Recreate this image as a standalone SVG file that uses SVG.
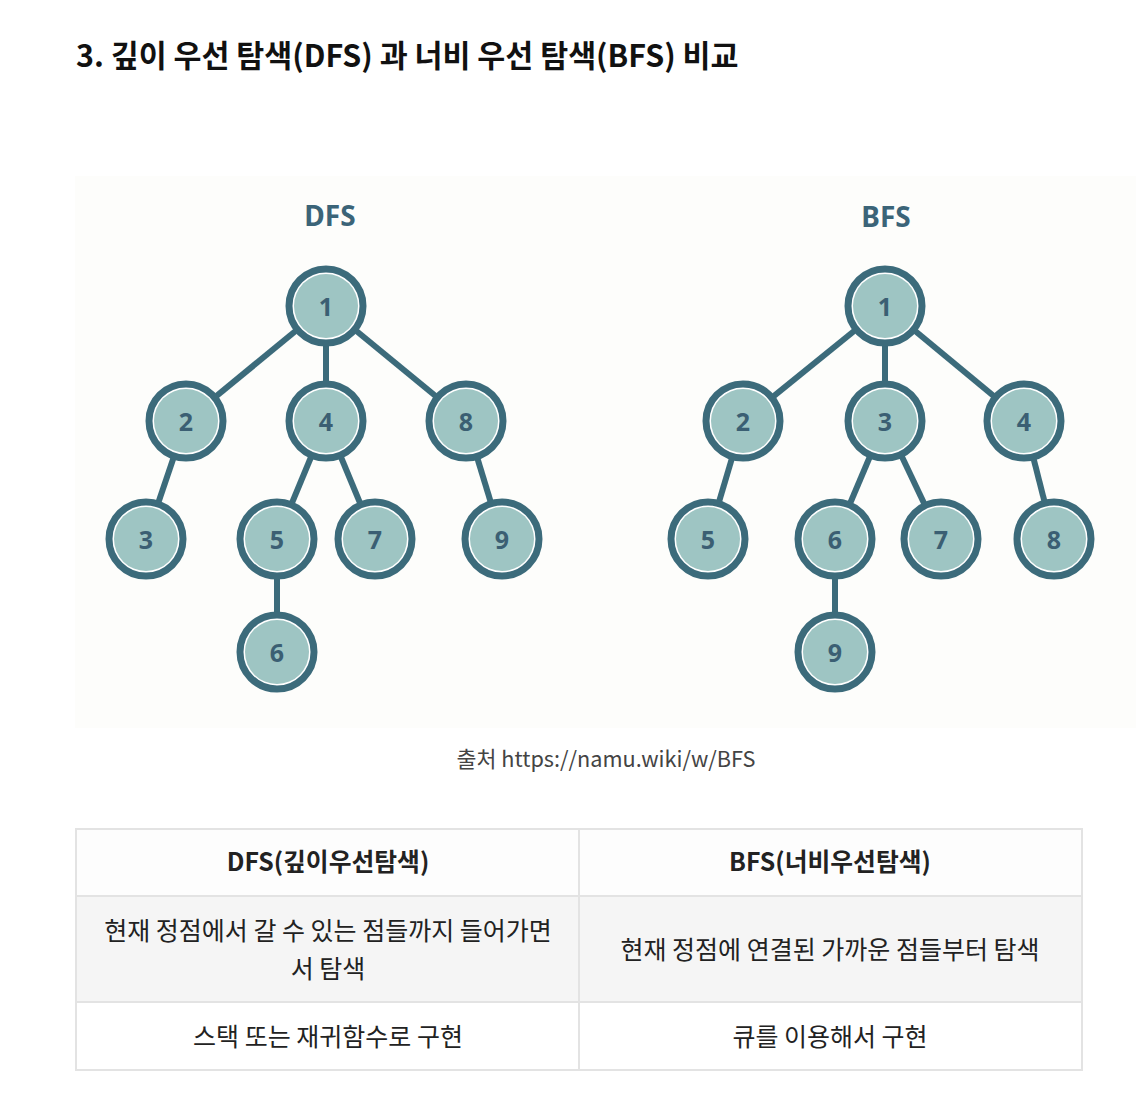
<svg xmlns="http://www.w3.org/2000/svg" width="1136" height="1098" viewBox="0 0 1136 1098">
<style>
.title{font-family:"Noto Sans CJK KR","Noto Sans",sans-serif;font-weight:700;font-size:30.4px;fill:#111}
.tlabel{font-family:"Noto Sans","Noto Sans CJK KR",sans-serif;font-weight:700;font-size:28px;fill:#3b6478;text-anchor:middle}
.ring{fill:#fff;stroke:#3c6b7b;stroke-width:7}
.fill{fill:#9ec5c3}
.num{font-family:"Noto Sans","Noto Sans CJK KR",sans-serif;font-weight:700;font-size:25px;fill:#3b5f73;text-anchor:middle;dominant-baseline:central}
.edge{stroke:#3c6b7b;stroke-width:6;fill:none}
.cap{font-family:"Noto Sans CJK KR","Noto Sans",sans-serif;font-size:21.7px;fill:#444;text-anchor:middle}
.th{font-family:"Noto Sans CJK KR","Noto Sans",sans-serif;font-weight:700;font-size:24.8px;fill:#222;text-anchor:middle}
.td{font-family:"Noto Sans CJK KR","Noto Sans",sans-serif;font-size:25px;fill:#222;text-anchor:middle}
.grid{stroke:#e3e3e3;stroke-width:2;fill:none}
</style>
<defs>
<g id="nd"><circle class="ring" r="37"/><circle class="fill" r="32"/></g>
</defs>
<rect width="1136" height="1098" fill="#fff"/>
<text class="title" x="76" y="67">3. 깊이 우선 탐색(DFS) 과 너비 우선 탐색(BFS) 비교</text>
<rect x="75" y="176" width="1061" height="552" fill="#fdfdfb"/>
<text class="tlabel" x="330" y="226">DFS</text>
<text class="tlabel" x="886" y="227">BFS</text>
<g id="connectors">
<line class="edge" x1="326" y1="306" x2="186" y2="421"/>
<line class="edge" x1="326" y1="306" x2="326" y2="421"/>
<line class="edge" x1="326" y1="306" x2="466" y2="421"/>
<line class="edge" x1="186" y1="421" x2="146" y2="539"/>
<line class="edge" x1="326" y1="421" x2="277" y2="539"/>
<line class="edge" x1="326" y1="421" x2="375" y2="539"/>
<line class="edge" x1="466" y1="421" x2="502" y2="539"/>
<line class="edge" x1="277" y1="539" x2="277" y2="652"/>
<line class="edge" x1="885" y1="306" x2="743" y2="421"/>
<line class="edge" x1="885" y1="306" x2="885" y2="421"/>
<line class="edge" x1="885" y1="306" x2="1024" y2="421"/>
<line class="edge" x1="743" y1="421" x2="708" y2="539"/>
<line class="edge" x1="885" y1="421" x2="835" y2="539"/>
<line class="edge" x1="885" y1="421" x2="941" y2="539"/>
<line class="edge" x1="1024" y1="421" x2="1054" y2="539"/>
<line class="edge" x1="835" y1="539" x2="835" y2="652"/>
</g>
<g id="dfs1"><use href="#nd" x="326" y="306"/><text class="num" x="326" y="306">1</text></g>
<g id="dfs2"><use href="#nd" x="186" y="421"/><text class="num" x="186" y="421">2</text></g>
<g id="dfs4"><use href="#nd" x="326" y="421"/><text class="num" x="326" y="421">4</text></g>
<g id="dfs8"><use href="#nd" x="466" y="421"/><text class="num" x="466" y="421">8</text></g>
<g id="dfs3"><use href="#nd" x="146" y="539"/><text class="num" x="146" y="539">3</text></g>
<g id="dfs5"><use href="#nd" x="277" y="539"/><text class="num" x="277" y="539">5</text></g>
<g id="dfs7"><use href="#nd" x="375" y="539"/><text class="num" x="375" y="539">7</text></g>
<g id="dfs9"><use href="#nd" x="502" y="539"/><text class="num" x="502" y="539">9</text></g>
<g id="dfs6"><use href="#nd" x="277" y="652"/><text class="num" x="277" y="652">6</text></g>
<g id="bfs1"><use href="#nd" x="885" y="306"/><text class="num" x="885" y="306">1</text></g>
<g id="bfs2"><use href="#nd" x="743" y="421"/><text class="num" x="743" y="421">2</text></g>
<g id="bfs3"><use href="#nd" x="885" y="421"/><text class="num" x="885" y="421">3</text></g>
<g id="bfs4"><use href="#nd" x="1024" y="421"/><text class="num" x="1024" y="421">4</text></g>
<g id="bfs5"><use href="#nd" x="708" y="539"/><text class="num" x="708" y="539">5</text></g>
<g id="bfs6"><use href="#nd" x="835" y="539"/><text class="num" x="835" y="539">6</text></g>
<g id="bfs7"><use href="#nd" x="941" y="539"/><text class="num" x="941" y="539">7</text></g>
<g id="bfs8"><use href="#nd" x="1054" y="539"/><text class="num" x="1054" y="539">8</text></g>
<g id="bfs9"><use href="#nd" x="835" y="652"/><text class="num" x="835" y="652">9</text></g>
<text class="cap" x="606" y="767">출처 https://namu.wiki/w/BFS</text>
<g id="table">
<rect x="76" y="829" width="1006" height="67" fill="#fdfdfd"/>
<rect x="76" y="896" width="1006" height="106" fill="#f5f5f5"/>
<rect x="76" y="1002" width="1006" height="68" fill="#fff"/>
<rect class="grid" x="76" y="829" width="1006" height="241"/>
<line class="grid" x1="76" y1="896" x2="1082" y2="896"/>
<line class="grid" x1="76" y1="1002" x2="1082" y2="1002"/>
<line class="grid" x1="579" y1="829" x2="579" y2="1070"/>
<text class="th" x="328" y="871">DFS(깊이우선탐색)</text>
<text class="th" x="830" y="871">BFS(너비우선탐색)</text>
<text class="td" x="328" y="940">현재 정점에서 갈 수 있는 점들까지 들어가면</text>
<text class="td" x="328" y="978">서 탐색</text>
<text class="td" x="830" y="959">현재 정점에 연결된 가까운 점들부터 탐색</text>
<text class="td" x="328" y="1046">스택 또는 재귀함수로 구현</text>
<text class="td" x="830" y="1046">큐를 이용해서 구현</text>
</g>
</svg>
